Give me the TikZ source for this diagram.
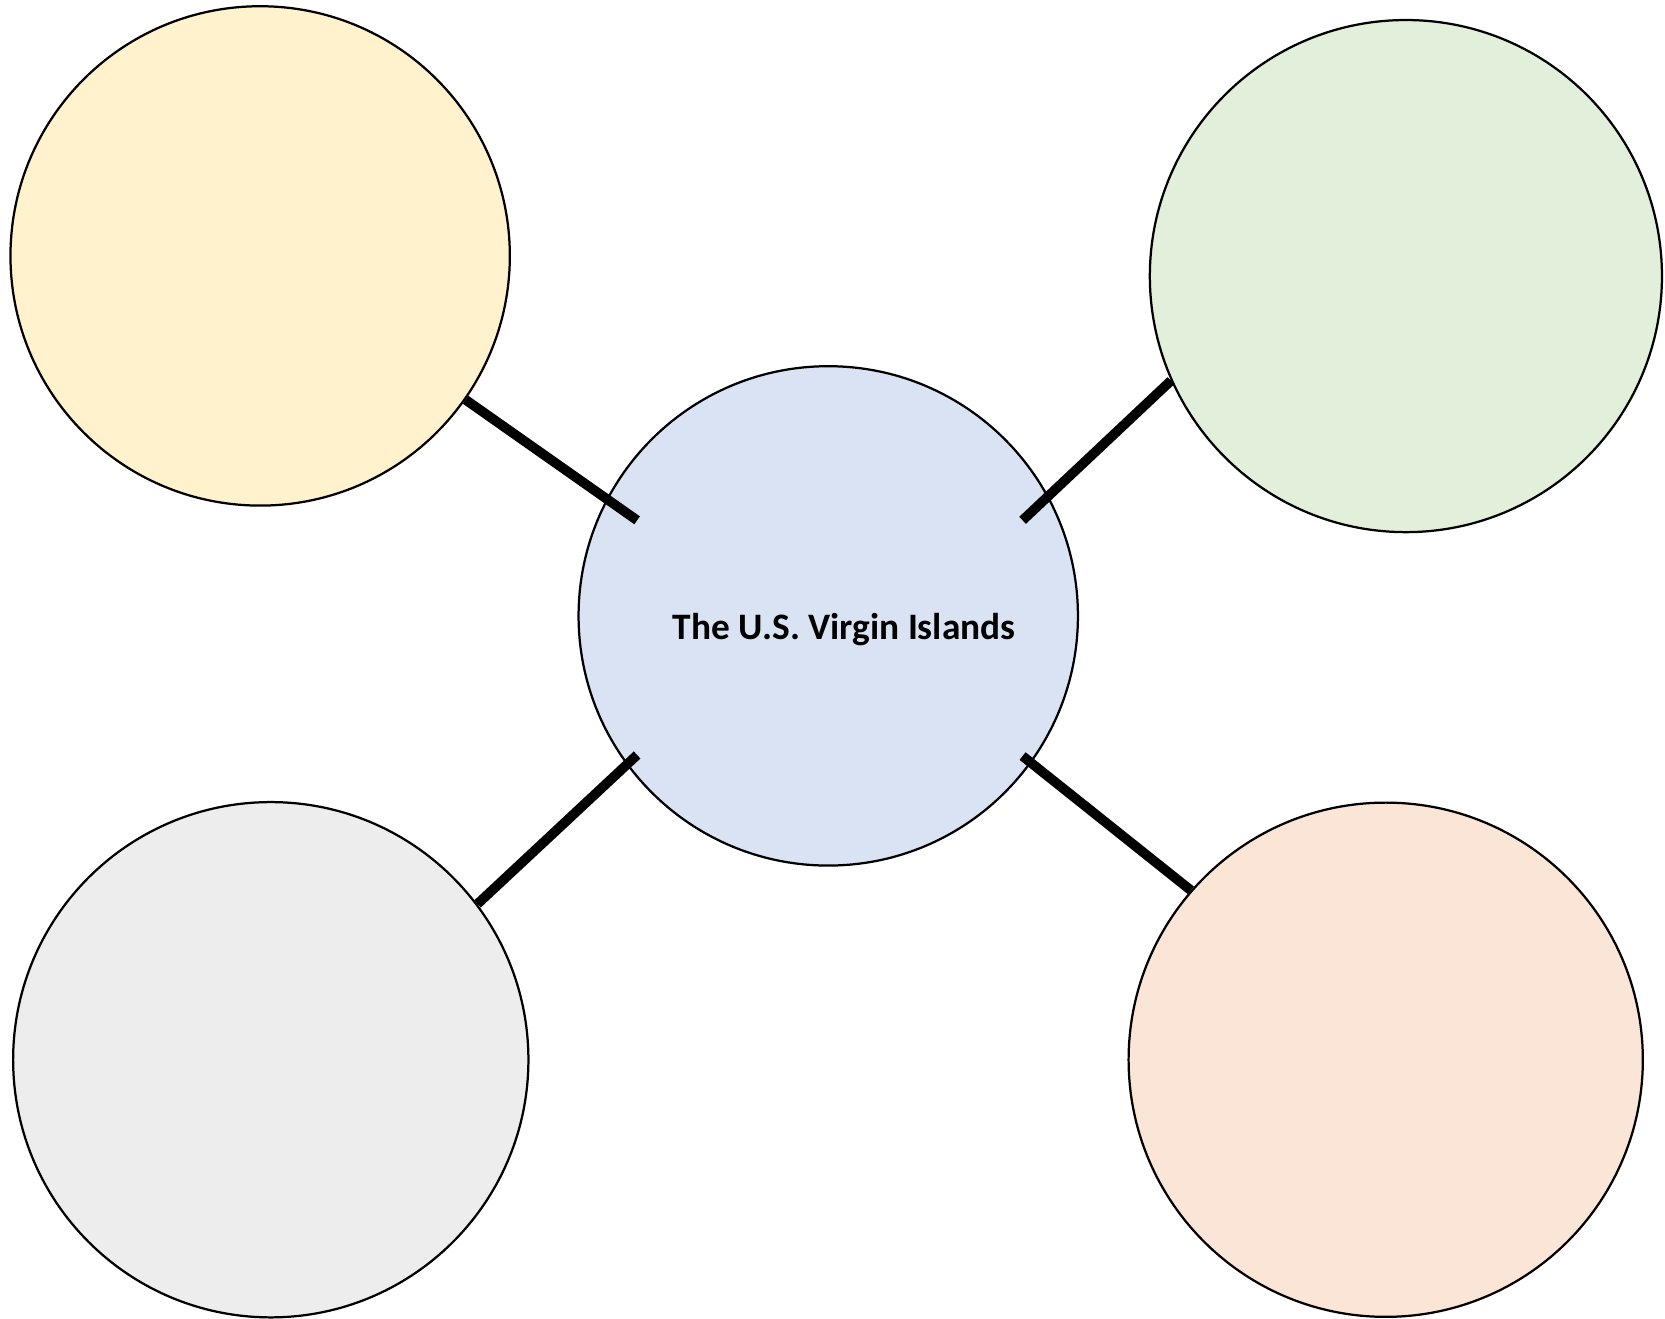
\documentclass[tikz,border=0pt]{standalone}
\usepackage{fontspec}
\setsansfont{Carlito}
\definecolor{topic1}{HTML}{FFF2CC}
\definecolor{topic2}{HTML}{E2EFDA}
\definecolor{topic3}{HTML}{EDEDED}
\definecolor{topic4}{HTML}{FBE5D6}
\definecolor{hubfill}{HTML}{DAE3F3}
\begin{document}
\begin{tikzpicture}[x=0.01cm, y=-0.01cm,
  bubble/.style={circle, draw, line width=0.6pt, inner sep=0pt},
  spoke/.style={line width=2.6pt}]
\useasboundingbox (0,0) rectangle (1568,1242);
% Nodes
\node[bubble, fill=hubfill, minimum size=4.70cm] (hub) at (780,580) {};
\node[font=\sffamily\bfseries\fontsize{10}{12}\selectfont] (title) at (795,593) {The U.S. Virgin Islands};
\foreach \i/\j/\k/\c/\s in {yellow/245/241/topic1/4.70, green/1324/260/topic2/4.82,
                              grey/255/998/topic3/4.85, peach/1305/998/topic4/4.84} {
  \node[bubble, fill=\c, minimum size=\s cm] (\i) at (\j,\k) {};
}
\coordinate (c1) at (600,490);
\coordinate (c2) at (963,490);
\coordinate (c3) at (600,711);
\coordinate (c4) at (963,712);
% Edges
\foreach \source/\target in {yellow.-35/c1, green.204/c2, grey.37/c3, peach.139/c4} {
  \draw[spoke] (\source) -- (\target);
}
\end{tikzpicture}
\end{document}
